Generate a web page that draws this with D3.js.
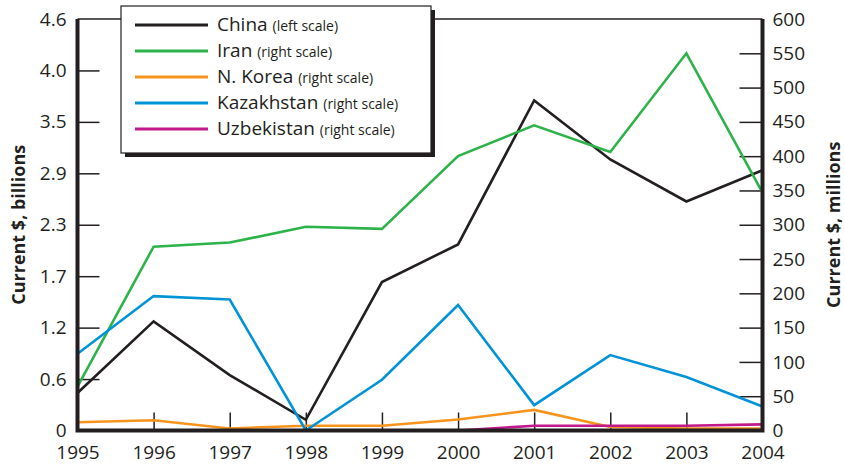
<!DOCTYPE html>
<html>
<head>
<meta charset="utf-8">
<script src="https://cdn.jsdelivr.net/npm/d3@7"></script>
<style>
  body { margin: 0; background: #fff; }
  text { font-family: "Open Sans", "Noto Sans", sans-serif; fill: #231f20; }
</style>
</head>
<body>
<svg id="chart" width="845" height="466"></svg>
<script>
var years = [1995, 1996, 1997, 1998, 1999, 2000, 2001, 2002, 2003, 2004];

// China in billions (left scale), the rest in millions (right scale)
var china      = [0.42, 1.22, 0.62, 0.12, 1.66, 2.08, 3.69, 3.03, 2.56, 2.91];
var iran       = [64, 268, 274, 297, 294, 400, 445, 406, 550, 347];
var nKorea     = [12, 15, 3, 7, 7, 16, 30, 5, 3, 3];
var kazakhstan = [112, 196, 191, 0, 74, 183, 37, 110, 78, 35];
var uzbekistan = [null, null, null, null, null, 0, 7, 7, 7, 9];

var leftTicks = [0, 0.575, 1.15, 1.725, 2.3, 2.875, 3.45, 4.025, 4.6];
var leftTickLabels = ['0', '0.6', '1.2', '1.7', '2.3', '2.9', '3.5', '4.0', '4.6'];
var rightTicks = [0, 50, 100, 150, 200, 250, 300, 350, 400, 450, 500, 550, 600];

var series = [
    {name: 'China', note: '(left scale)', values: china, color: '#231f20', side: 'left'},
    {name: 'Iran', note: '(right scale)', values: iran, color: '#2db34a', side: 'right'},
    {name: 'N. Korea', note: '(right scale)', values: nKorea, color: '#f7941d', side: 'right'},
    {name: 'Kazakhstan', note: '(right scale)', values: kazakhstan, color: '#0093d6', side: 'right'},
    {name: 'Uzbekistan', note: '(right scale)', values: uzbekistan, color: '#c1188b', side: 'right'}
];

var margin = {top: 19, right: 82.5, bottom: 35.5, left: 77.5};
var W = 845, H = 466;
var width = W - margin.left - margin.right,
    height = H - margin.top - margin.bottom;

var svg = d3.select('#chart');
var g = svg.append('g')
    .attr('transform', 'translate(' + margin.left + ',' + margin.top + ')');

var x = d3.scaleLinear().domain([1995, 2004]).range([0, width]);
var yL = d3.scaleLinear().domain([0, 4.6]).range([height, 0]);
var yR = d3.scaleLinear().domain([0, 600]).range([height, 0]);

// thin top border
g.append('line')
    .attr('x1', 0).attr('x2', width)
    .attr('y1', 0).attr('y2', 0)
    .attr('stroke', '#231f20').attr('stroke-width', 1.5);

// axes
var leftAxis = g.append('g')
    .call(d3.axisLeft(yL).tickValues(leftTicks)
        .tickFormat(function(d, i) { return leftTickLabels[i]; })
        .tickSize(-22).tickPadding(11));

var rightAxis = g.append('g')
    .attr('transform', 'translate(' + width + ',0)')
    .call(d3.axisRight(yR).tickValues(rightTicks).tickSize(-23).tickPadding(10));

var bottomAxis = g.append('g')
    .attr('transform', 'translate(0,' + height + ')')
    .call(d3.axisBottom(x).tickValues(years).tickFormat(d3.format('d'))
        .tickSize(-18).tickPadding(15));

[leftAxis, rightAxis, bottomAxis].forEach(function(a) {
    a.select('.domain').remove();
    a.selectAll('.tick line').attr('stroke', '#231f20').attr('stroke-width', 1.5);
    a.selectAll('.tick text').style('font-size', '19px').attr('fill', '#231f20');
});
leftAxis.selectAll('.tick').filter(function(d) { return d === 0 || d === 4.6; })
    .select('line').remove();
rightAxis.selectAll('.tick').filter(function(d) { return d === 0 || d === 600; })
    .select('line').remove();
bottomAxis.selectAll('.tick').filter(function(d) { return d === 1995 || d === 2004; })
    .select('line').remove();

// lines
series.forEach(function(s) {
    var yScale = s.side === 'left' ? yL : yR;
    var line = d3.line()
        .defined(function(d) { return d != null; })
        .x(function(d, i) { return x(years[i]); })
        .y(function(d) { return yScale(d); });
    g.append('path')
        .datum(s.values)
        .attr('fill', 'none')
        .attr('stroke', s.color)
        .attr('stroke-width', 2.6)
        .attr('stroke-linejoin', 'miter')
        .attr('d', line);
});

// thick axis frame
g.append('path')
    .attr('d', 'M0,0V' + height + 'H' + width + 'V0')
    .attr('fill', 'none')
    .attr('stroke', '#231f20')
    .attr('stroke-width', 4);

// axis titles
svg.append('text')
    .attr('transform', 'translate(25,' + (margin.top + height / 2) + ') rotate(-90)')
    .attr('text-anchor', 'middle')
    .style('font-size', '18px').style('font-weight', 'bold')
    .text('Current $, billions');

svg.append('text')
    .attr('transform', 'translate(840,' + (margin.top + height / 2) + ') rotate(-90)')
    .attr('text-anchor', 'middle')
    .style('font-size', '18px').style('font-weight', 'bold')
    .text('Current $, millions');

// legend
var lg = svg.append('g').attr('transform', 'translate(121,6)');
lg.append('rect')
    .attr('x', 4).attr('y', 4).attr('width', 310).attr('height', 147)
    .attr('fill', '#231f20');
lg.append('rect')
    .attr('x', 0).attr('y', 0).attr('width', 310).attr('height', 147)
    .attr('fill', '#fff').attr('stroke', '#231f20').attr('stroke-width', 1.2);

var items = lg.selectAll('.item').data(series).enter().append('g')
    .attr('transform', function(d, i) { return 'translate(0,' + (19 + i * 26) + ')'; });
items.append('line')
    .attr('x1', 14).attr('x2', 87)
    .attr('stroke', function(d) { return d.color; })
    .attr('stroke-width', 3);
var lt = items.append('text')
    .attr('x', 96).attr('dy', '0.36em');
lt.append('tspan').style('font-size', '19px').text(function(d) { return d.name + ' '; });
lt.append('tspan').style('font-size', '14px').text(function(d) { return d.note; });
</script>
</body>
</html>
